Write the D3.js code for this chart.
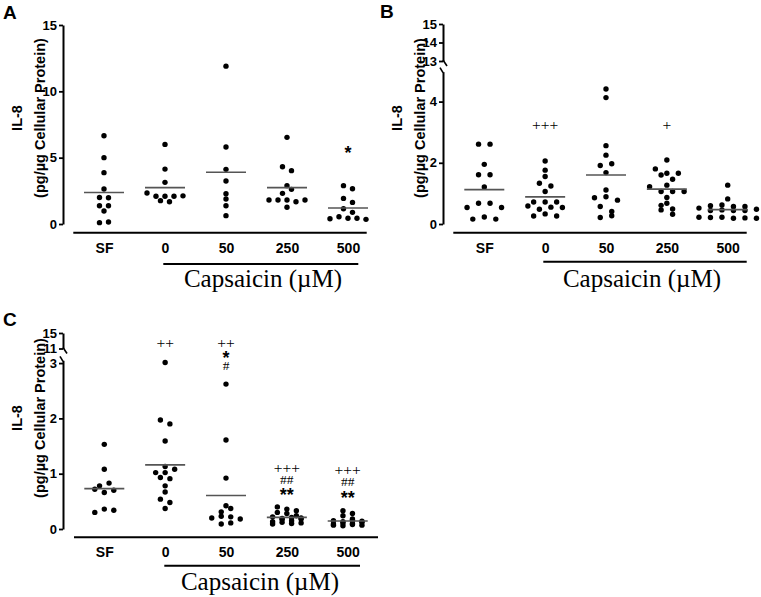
<!DOCTYPE html>
<html><head><meta charset="utf-8">
<script src="https://cdn.jsdelivr.net/npm/d3@7"></script>
<style>body{margin:0;background:#fff}svg{display:block}</style>
</head><body>
<svg id="chart" width="761" height="597"></svg>
<script>
// ---------------- DATA ----------------
const categories = ["SF", "0", "50", "250", "500"];

// Panel A: IL-8 (pg/µg cellular protein), one array per category
const valuesA = [
  [6.65, 5.0, 3.87, 2.64, 2.0, 1.98, 1.38, 0.98, 1.38, 0.1, 0.15],
  [6.0, 4.14, 3.14, 2.34, 2.09, 2.09, 2.09, 2.12, 1.76, 1.68],
  [11.9, 5.8, 4.12, 3.24, 2.28, 1.88, 1.38, 0.63],
  [6.53, 4.32, 4.02, 2.89, 2.31, 2.61, 1.81, 1.81, 1.81, 1.68, 1.81, 1.26],
  [2.89, 2.66, 1.93, 1.63, 1.15, 0.88, 0.40, 0.55, 0.43, 0.43, 0.35]
];
// Panel B
const valuesB = [
  [2.61, 2.61, 1.95, 1.61, 1.61, 1.21, 0.54, 0.68, 0.68, 0.54, 0.16, 0.23, 0.16],
  [2.06, 1.76, 1.55, 1.33, 1.24, 1.06, 0.72, 0.72, 0.72, 0.59, 0.48, 0.55, 0.54, 0.26, 0.33, 0.26],
  [4.41, 4.13, 2.56, 2.25, 1.91, 1.97, 1.68, 1.11, 0.86, 0.89, 0.78, 0.57, 0.41, 0.21, 0.27],
  [2.09, 1.80, 1.66, 1.60, 1.66, 1.46, 1.22, 1.27, 1.06, 1.06, 1.06, 0.87, 0.61, 0.49, 0.68, 0.46, 0.32],
  [1.27, 0.82, 0.60, 0.62, 0.57, 0.52, 0.57, 0.44, 0.46, 0.44, 0.44, 0.48, 0.22, 0.21, 0.22, 0.19, 0.20, 0.19]
];
// Panel C
const valuesC = [
  [1.53, 1.08, 0.78, 0.83, 0.72, 0.66, 0.70, 0.30, 0.36, 0.34],
  [3.01, 1.97, 1.90, 1.59, 1.13, 1.02, 1.02, 1.08, 0.93, 0.91, 0.78, 0.67, 0.54, 0.48, 0.37],
  [2.62, 1.61, 0.92, 0.42, 0.31, 0.20, 0.09, 0.23, 0.22, 0.11, 0.37, 0.18],
  [0.40, 0.36, 0.13, 0.30, 0.22, 0.09, 0.28, 0.19, 0.24, 0.12, 0.33, 0.21, 0.17, 0.10, 0.20, 0.15, 0.11, 0.18],
  [0.24, 0.33, 0.09, 0.28, 0.15, 0.07, 0.13, 0.18, 0.11, 0.06, 0.16, 0.10, 0.14, 0.08, 0.12, 0.07]
];

const ticksA = [0, 5, 10, 15];
const ticksBLow = [0, 2, 4];
const ticksBHigh = [13, 14, 15];
const ticksCLow = [0, 1, 2, 3];
const ticksCHigh = [11, 15];

const marksA = [[], [], [], [], ["*"]];
const marksB = [[], ["+++"], [], ["+"], []];
const marksC = [[], ["++"], ["++", "*", "#"], ["+++", "##", "**"], ["+++", "##", "**"]];

const yTitleLines = ["IL-8", "(pg/µg Cellular Protein)"];
const xGroupTitle = "Capsaicin (µM)";
const panelLetters = ["A", "B", "C"];

// ---------------- LAYOUT ----------------
const SANS = "'Liberation Sans', Arial, Helvetica, sans-serif";
const SERIF = "'Liberation Serif', 'Times New Roman', Times, serif";

const panels = [
  { letter: panelLetters[0], values: valuesA, marks: marksA,
    markY: [[], [], [], [], [149]],
    xRange: [104, 348], ax: 63,
    low: { domain: [0, 15], range: [224, 25], ticks: ticksA }, high: null,
    xLine: { y: 232.7, x1: 73.3, x2: 366.7 }, labPad: 10.5,
    caps: { y: 264, x1: 163.3, x2: 358.3, tx: 263, ty: 287 },
    title: { x1: 16.5, x2: 39.5, y: 118 }, lt: { x: 3, y: 19 },
    sw: { T: 5, sp: 9, max: 6 } },
  { letter: panelLetters[1], values: valuesB, marks: marksB,
    markY: [[], [125], [], [125], []],
    xRange: [484.3, 727.7], ax: 443,
    low: { domain: [0, 4.98], range: [224, 71.6], ticks: ticksBLow },
    high: { domain: [13, 15], range: [61, 24], ticks: ticksBHigh },
    xLine: { y: 232.7, x1: 453.3, x2: 746.7 }, labPad: 10.5,
    caps: { y: 261.7, x1: 543.3, x2: 746.7, tx: 642, ty: 287 },
    title: { x1: 396.5, x2: 419.5, y: 118 }, lt: { x: 380, y: 18 },
    sw: { T: 5, sp: 11.5, max: 6 } },
  { letter: panelLetters[2], values: valuesC, marks: marksC,
    markY: [[], [342.7], [342.7, 354, 366], [468.3, 480, 491.5], [470, 481.7, 494.5]],
    xRange: [104.3, 347.7], ax: 63,
    low: { domain: [0, 3.05], range: [529, 360.3], ticks: ticksCLow },
    high: { domain: [11, 15], range: [348.5, 333], ticks: ticksCHigh },
    xLine: { y: 537.3, x1: 74, x2: 378 }, labPad: 10,
    caps: { y: 565.7, x1: 164.3, x2: 360, tx: 260, ty: 589.5 },
    title: { x1: 16.5, x2: 39.5, y: 418 }, lt: { x: 3, y: 326 },
    sw: { T: 4, sp: 9.5, max: 4 } }
];

// row-binned column scatter (GraphPad-like)
function swarm(vals, y, T, sp, maxRow) {
  const idx = vals.map((v, i) => i).sort((a, b) => vals[a] - vals[b]);
  const rows = []; let cur = null;
  idx.forEach(i => {
    const py = y(vals[i]);
    if (cur && Math.abs(py - cur.y0) <= T && cur.items.length < maxRow) cur.items.push(i);
    else { cur = { y0: py, items: [i] }; rows.push(cur); }
  });
  const off = new Array(vals.length).fill(0);
  rows.forEach(r => {
    r.items.sort((a, b) => a - b);
    const n = r.items.length;
    r.items.forEach((i, k) => { off[i] = (k - (n - 1) / 2) * sp; });
  });
  return off;
}

const svg = d3.select("#chart");
svg.append("rect").attr("width", 761).attr("height", 597).attr("fill", "#fff");

panels.forEach(p => {
  const g = svg.append("g");
  const x = d3.scalePoint().domain(categories).range(p.xRange);
  const yL = d3.scaleLinear().domain(p.low.domain).range(p.low.range);

  const styleAxis = a => {
    a.attr("font-size", 13).attr("font-family", SANS).attr("font-weight", "bold");
    a.select(".domain").attr("stroke", "#000").attr("stroke-width", 2);
    a.selectAll(".tick line").attr("stroke", "#000").attr("stroke-width", 1.8);
    a.selectAll(".tick text").attr("fill", "#000");
  };
  // y axis (low segment)
  const axL = g.append("g").attr("transform", `translate(${p.ax},0)`)
    .call(d3.axisLeft(yL).tickValues(p.low.ticks).tickSize(4).tickSizeOuter(0).tickPadding(2).tickFormat(d3.format("d")));
  styleAxis(axL);

  if (p.high) {
    const yH = d3.scaleLinear().domain(p.high.domain).range(p.high.range);
    const axH = g.append("g").attr("transform", `translate(${p.ax},0)`)
      .call(d3.axisLeft(yH).tickValues(p.high.ticks).tickSize(4).tickSizeOuter(0).tickPadding(2).tickFormat(d3.format("d")));
    styleAxis(axH);
    const yb = yH(p.high.domain[0]);
    const yt = yL(p.low.domain[1]);
    // break marks
    g.append("path").attr("d", `M${p.ax},${yb - 1}L${p.ax + 4},${yb + 5}`)
      .attr("stroke", "#000").attr("stroke-width", 1.6).attr("fill", "none");
    g.append("path").attr("d", `M${p.ax - 3},${yt - 4}L${p.ax},${yt + 1}`)
      .attr("stroke", "#000").attr("stroke-width", 1.6).attr("fill", "none");
  }

  // x axis line
  g.append("line").attr("x1", p.xLine.x1).attr("x2", p.xLine.x2)
    .attr("y1", p.xLine.y).attr("y2", p.xLine.y).attr("stroke", "#000").attr("stroke-width", 2);
  const axX = g.append("g").attr("transform", `translate(0,${p.xLine.y})`)
    .call(d3.axisBottom(x).tickSize(0).tickPadding(p.labPad));
  axX.select(".domain").remove();
  axX.attr("font-size", 14).attr("font-family", SANS).attr("font-weight", "bold");
  axX.selectAll(".tick text").attr("fill", "#000");

  // capsaicin bracket
  g.append("line").attr("x1", p.caps.x1).attr("x2", p.caps.x2)
    .attr("y1", p.caps.y).attr("y2", p.caps.y).attr("stroke", "#000").attr("stroke-width", 2);
  g.append("text").attr("x", p.caps.tx).attr("y", p.caps.ty).attr("text-anchor", "middle")
    .attr("font-family", SERIF).attr("font-size", 25).text(xGroupTitle);

  // y title
  [p.title.x1, p.title.x2].forEach((tx, i) => {
    g.append("text").attr("transform", `translate(${tx},${p.title.y}) rotate(-90)`)
      .attr("text-anchor", "middle").attr("dominant-baseline", "central")
      .attr("font-family", SANS).attr("font-weight", "bold").attr("font-size", 14.5)
      .text(yTitleLines[i]);
  });

  // panel letter
  g.append("text").attr("x", p.lt.x).attr("y", p.lt.y)
    .attr("font-family", SANS).attr("font-weight", "bold").attr("font-size", 19).text(p.letter);

  // data
  categories.forEach((c, ci) => {
    const vals = p.values[ci];
    const off = swarm(vals, yL, p.sw.T, p.sw.sp, p.sw.max);
    g.append("g").selectAll("circle").data(vals).join("circle")
      .attr("cx", (d, i) => x(c) + off[i]).attr("cy", d => yL(d))
      .attr("r", 2.7).attr("fill", "#000");
    const m = d3.mean(vals);
    g.append("line").attr("x1", x(c) - 20).attr("x2", x(c) + 20)
      .attr("y1", yL(m)).attr("y2", yL(m)).attr("stroke", "#555").attr("stroke-width", 1.6);

    // significance marks
    p.marks[ci].forEach((t, k) => {
      const cy = p.markY[ci][k];
      const isStar = t.indexOf("*") >= 0;
      const isHash = t.indexOf("#") >= 0;
      const fs = isStar ? 18 : (isHash ? 13.5 : 15.5);
      const dy = isStar ? 0.55 * fs : 0.33 * fs;
      g.append("text").attr("x", x(c)).attr("y", cy + dy).attr("text-anchor", "middle")
        .attr("font-family", isStar ? SANS : SERIF).attr("font-weight", isStar ? "bold" : "normal")
        .attr("font-size", fs).text(t);
    });
  });
});
</script>
</body></html>
